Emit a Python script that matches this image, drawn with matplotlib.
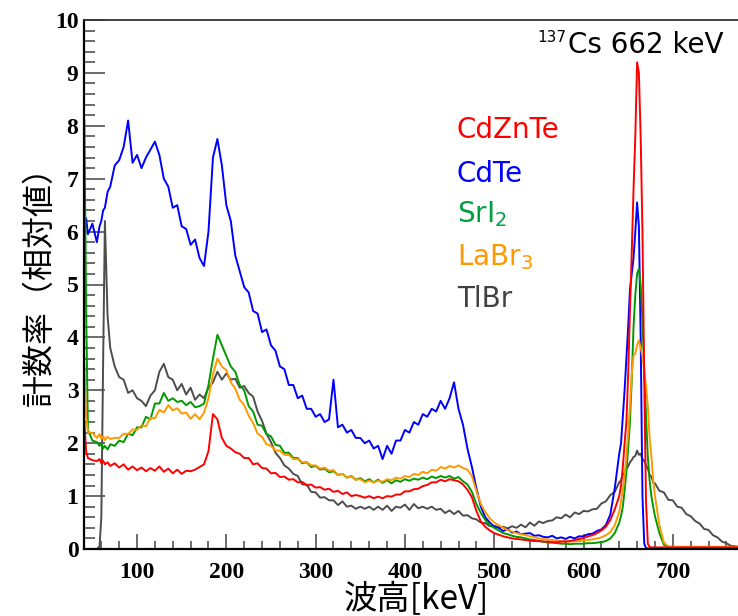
import matplotlib
matplotlib.use("Agg")
import matplotlib.pyplot as plt
from matplotlib.ticker import MultipleLocator

plt.rcParams['font.family'] = ['DejaVu Sans']
jp_font = ['Noto Sans CJK JP', 'DejaVu Sans']

# energy grid of the read-off points [keV]
energy = ([41, 43, 45, 50, 55, 58, 60, 62, 64, 67, 70]
          + list(range(75, 641, 5))
          + list(range(642, 681, 2))
          + list(range(685, 776, 5)))

# counts (relative)
tlbr = [0, 0, 0, 0, 0, 0.05, 0.6, 3.5, 6.2, 4.4, 3.8,
        3.45, 3.25, 3.2, 2.95, 3.0, 2.85, 2.8, 2.7, 2.9, 3.0,
        3.35, 3.5, 3.25, 3.2, 3.0, 3.12, 2.92, 3.05, 2.82, 2.92,
        2.85, 3.05, 3.15, 3.35, 3.2, 3.32, 3.2, 3.22, 3.05, 3.08,
        2.95, 2.88, 2.6, 2.42, 2.18, 2.02, 1.82, 1.72, 1.58, 1.52,
        1.42, 1.38, 1.22, 1.22, 1.08, 1.07, 0.97, 0.98, 0.92, 0.92,
        0.83, 0.9, 0.8, 0.82, 0.76, 0.8, 0.76, 0.8, 0.74, 0.8,
        0.74, 0.82, 0.72, 0.8, 0.78, 0.84, 0.74, 0.85, 0.77, 0.8,
        0.76, 0.8, 0.74, 0.76, 0.68, 0.73, 0.66, 0.72, 0.63, 0.64,
        0.58, 0.56, 0.5, 0.49, 0.43, 0.44, 0.41, 0.42, 0.39, 0.43,
        0.4, 0.46, 0.41, 0.5, 0.44, 0.52, 0.49, 0.53, 0.54, 0.6,
        0.58, 0.65, 0.6, 0.69, 0.66, 0.72, 0.71, 0.75, 0.76, 0.86,
        0.9, 1.02, 1.08, 1.26,
        1.3, 1.4, 1.44, 1.52, 1.56, 1.64, 1.68, 1.74, 1.76, 1.86,
        1.78, 1.8, 1.7, 1.67, 1.58, 1.52, 1.4, 1.37, 1.26, 1.24,
        1.1, 1.07, 0.93, 0.92, 0.8, 0.78, 0.66, 0.62, 0.53, 0.48,
        0.38, 0.36, 0.26, 0.22, 0.14, 0.11, 0.06, 0.05, 0.04]

cdte = [6.1, 6.25, 5.95, 6.15, 5.8, 6.1, 6.2, 6.4, 6.45, 6.75, 6.85,
        7.25, 7.35, 7.6, 8.1, 7.3, 7.45, 7.2, 7.4, 7.55, 7.7,
        7.45, 7.0, 6.85, 6.45, 6.5, 6.1, 6.05, 5.75, 5.85, 5.5,
        5.35, 6.0, 7.4, 7.75, 7.25, 6.5, 6.2, 5.55, 5.25, 4.95,
        4.85, 4.5, 4.45, 4.1, 4.15, 3.85, 3.75, 3.45, 3.4, 3.1,
        3.1, 2.85, 2.9, 2.65, 2.65, 2.5, 2.55, 2.4, 2.45, 3.2,
        2.3, 2.35, 2.2, 2.25, 2.1, 2.1, 2.0, 2.05, 1.9, 1.95,
        1.7, 1.95, 1.8, 2.05, 2.05, 2.25, 2.2, 2.4, 2.35, 2.55,
        2.5, 2.65, 2.6, 2.8, 2.65, 2.85, 3.15, 2.65, 2.35, 1.9,
        1.55, 1.15, 0.8, 0.6, 0.5, 0.42, 0.4, 0.34, 0.38, 0.31,
        0.33, 0.28, 0.29, 0.3, 0.25, 0.26, 0.23, 0.22, 0.25, 0.2,
        0.22, 0.19, 0.23, 0.2, 0.24, 0.24, 0.28, 0.29, 0.34, 0.37,
        0.45, 0.65, 1.15, 1.8,
        2.0, 2.5, 3.0, 3.6, 4.2, 4.9, 5.2, 5.5, 6.0, 6.55,
        6.1, 4.0, 1.0, 0.1, 0.02, 0.01, 0.01, 0.01, 0.01, 0.01,
        0.01, 0.01, 0.01, 0.01, 0.01, 0.01, 0.01, 0.01, 0.01, 0.01,
        0.01, 0.01, 0.01, 0.01, 0.01, 0.01, 0.01, 0.01, 0.01]

sri2 = [8.1, 4.5, 2.25, 2.05, 2.02, 1.95, 2.0, 1.9, 1.95, 1.88, 1.98,
        1.95, 2.05, 2.02, 2.18, 2.15, 2.3, 2.3, 2.5, 2.45, 2.75,
        2.75, 2.95, 2.8, 2.85, 2.78, 2.8, 2.72, 2.78, 2.68, 2.7,
        2.75, 3.1, 3.6, 4.05, 3.85, 3.65, 3.45, 3.35, 3.1, 3.0,
        2.7, 2.6, 2.35, 2.33, 2.17, 2.13, 1.97, 1.95, 1.82, 1.82,
        1.72, 1.72, 1.62, 1.64, 1.55, 1.57, 1.5, 1.52, 1.45, 1.47,
        1.4, 1.42, 1.35, 1.38, 1.31, 1.34, 1.28, 1.32, 1.26, 1.31,
        1.25, 1.3, 1.24, 1.3, 1.27, 1.32, 1.29, 1.33, 1.31, 1.35,
        1.32, 1.37, 1.34, 1.38, 1.35, 1.38, 1.33, 1.36, 1.28, 1.22,
        1.08, 0.85, 0.68, 0.55, 0.45, 0.4, 0.35, 0.3, 0.28, 0.25,
        0.23, 0.22, 0.2, 0.18, 0.17, 0.15, 0.14, 0.12, 0.12, 0.11,
        0.1, 0.1, 0.09, 0.1, 0.1, 0.1, 0.11, 0.11, 0.12, 0.13,
        0.15, 0.2, 0.3, 0.5,
        0.62, 0.8, 1.1, 1.45, 1.9, 2.4, 3.2, 4.2, 4.8, 5.2,
        5.3, 5.0, 4.3, 3.4, 2.5, 1.75, 1.3, 1.0, 0.8, 0.62,
        0.3, 0.08, 0.04, 0.04, 0.04, 0.04, 0.04, 0.04, 0.04, 0.04,
        0.04, 0.04, 0.04, 0.04, 0.04, 0.04, 0.04, 0.04, 0.04]

labr3 = [3.5, 2.5, 2.2, 2.2, 2.1, 2.17, 2.08, 2.14, 2.06, 2.12, 2.08,
         2.1, 2.1, 2.18, 2.17, 2.26, 2.25, 2.34, 2.32, 2.48, 2.47,
         2.63, 2.58, 2.72, 2.62, 2.66, 2.56, 2.58, 2.46, 2.55, 2.45,
         2.58, 2.85, 3.3, 3.6, 3.45, 3.38, 3.15, 3.03, 2.82, 2.72,
         2.52, 2.38, 2.18, 2.12, 1.98, 1.95, 1.86, 1.86, 1.78, 1.78,
         1.7, 1.7, 1.64, 1.64, 1.58, 1.58, 1.52, 1.54, 1.48, 1.49,
         1.4, 1.42, 1.36, 1.37, 1.31, 1.32, 1.26, 1.29, 1.26, 1.29,
         1.27, 1.32, 1.3, 1.35, 1.33, 1.38, 1.36, 1.42, 1.4, 1.46,
         1.43, 1.5, 1.48, 1.55, 1.52, 1.57, 1.54, 1.58, 1.53, 1.5,
         1.38, 1.1, 0.85, 0.7, 0.58, 0.5, 0.45, 0.4, 0.36, 0.33,
         0.3, 0.28, 0.26, 0.24, 0.22, 0.2, 0.19, 0.18, 0.17, 0.16,
         0.15, 0.15, 0.14, 0.15, 0.15, 0.16, 0.17, 0.18, 0.2, 0.22,
         0.26, 0.32, 0.45, 0.7,
         0.9, 1.1, 1.4, 1.75, 2.2, 2.7, 3.3, 3.65, 3.7, 3.85,
         3.95, 3.8, 3.65, 3.35, 3.1, 2.7, 2.1, 1.75, 1.3, 1.0,
         0.45, 0.12, 0.05, 0.04, 0.04, 0.04, 0.04, 0.04, 0.04, 0.04,
         0.04, 0.04, 0.04, 0.04, 0.04, 0.04, 0.04, 0.04, 0.04]

cdznte = [2.4, 1.85, 1.72, 1.68, 1.66, 1.7, 1.62, 1.67, 1.6, 1.64, 1.57,
          1.62, 1.54, 1.6, 1.5, 1.56, 1.49, 1.54, 1.47, 1.53, 1.48,
          1.56, 1.46, 1.52, 1.43, 1.5, 1.42, 1.48, 1.47, 1.5, 1.55,
          1.6, 1.85, 2.55, 2.45, 2.1, 1.95, 1.9, 1.83, 1.8, 1.72,
          1.72, 1.6, 1.62, 1.53, 1.52, 1.43, 1.44, 1.36, 1.37, 1.31,
          1.32, 1.26, 1.27, 1.2, 1.22, 1.16, 1.17, 1.12, 1.14, 1.08,
          1.1, 1.04, 1.07, 1.0, 1.02, 1.0, 0.97, 1.0, 0.96, 0.99,
          0.96, 1.0, 0.99, 1.03, 1.03, 1.09, 1.09, 1.13, 1.14, 1.19,
          1.21, 1.26, 1.26, 1.31, 1.28, 1.32, 1.3, 1.28, 1.22, 1.12,
          0.98, 0.72, 0.52, 0.42, 0.35, 0.3, 0.27, 0.24, 0.22, 0.2,
          0.19, 0.18, 0.17, 0.16, 0.15, 0.15, 0.14, 0.14, 0.13, 0.13,
          0.14, 0.14, 0.15, 0.17, 0.19, 0.21, 0.24, 0.26, 0.3, 0.35,
          0.42, 0.55, 0.75, 1.0,
          1.2, 1.55, 2.0, 2.4, 3.3, 4.5, 5.6, 6.8, 7.8, 9.2,
          9.0, 7.8, 6.0, 3.2, 0.9, 0.1, 0.04, 0.03, 0.03, 0.03,
          0.03, 0.03, 0.03, 0.03, 0.03, 0.03, 0.03, 0.03, 0.03, 0.03,
          0.03, 0.03, 0.03, 0.03, 0.03, 0.03, 0.03, 0.03, 0.03]

series = [
    ("TlBr", tlbr, '#4d4d4d'),
    ("CdTe", cdte, '#0000ff'),
    ("SrI2", sri2, '#009a00'),
    ("LaBr3", labr3, '#ff9900'),
    ("CdZnTe", cdznte, '#ff0000'),
]

fig = plt.figure(figsize=(7.38, 6.16), dpi=100)
ax = fig.add_axes([84 / 738, 1 - 549 / 616, 654 / 738, 529 / 616])

for name, vals, color in series:
    ax.plot(energy, vals, color=color, lw=1.4)

ax.set_xlim(40.6, 773)
ax.set_ylim(0, 10)

ax.xaxis.set_major_locator(MultipleLocator(100))
ax.xaxis.set_minor_locator(MultipleLocator(20))
ax.yaxis.set_major_locator(MultipleLocator(1))
ax.yaxis.set_minor_locator(MultipleLocator(0.2))

ax.tick_params(which='both', direction='in', top=False, right=False, color='#444444', width=1.1)
ax.tick_params(axis='y', which='major', length=15, pad=4)
ax.tick_params(axis='y', which='minor', length=8)
ax.tick_params(axis='x', which='major', length=11, pad=9)
ax.tick_params(axis='x', which='minor', length=6)

for lab in ax.get_xticklabels() + ax.get_yticklabels():
    lab.set_fontfamily('Liberation Serif')
    lab.set_fontweight('bold')
    lab.set_fontsize(17)

ax.spines['right'].set_visible(False)
ax.spines['left'].set_linewidth(1.6)
ax.spines['bottom'].set_linewidth(1.6)
ax.spines['top'].set_linewidth(1.3)
ax.spines['top'].set_color('#333333')

# detector labels
labels = [("CdZnTe", '#ff0000', 7.77),
          ("CdTe", '#0000ff', 6.94),
          ("SrI$_2$", '#00a040', 6.18),
          ("LaBr$_3$", '#ff9900', 5.37),
          ("TlBr", '#404040', 4.57)]
for txt, c, yv in labels:
    ax.text(458, yv, txt, color=c, fontsize=20, ha='left', va='baseline')

ax.text(582.6, 9.38, "Cs 662 keV", fontsize=20, ha='left', va='baseline', color='black')
ax.text(548, 9.58, "137", fontsize=11, ha='left', va='baseline', color='black')

fig.text(40 / 738, 1 - 278 / 616, "計数率（相対値）", rotation=90, fontsize=23,
         ha='center', va='center', family=jp_font)
fig.text(416 / 738, 1 - 600 / 616, "波高[keV]", fontsize=24, ha='center', va='center',
         family=jp_font)

fig.savefig("out.png", dpi=100)
